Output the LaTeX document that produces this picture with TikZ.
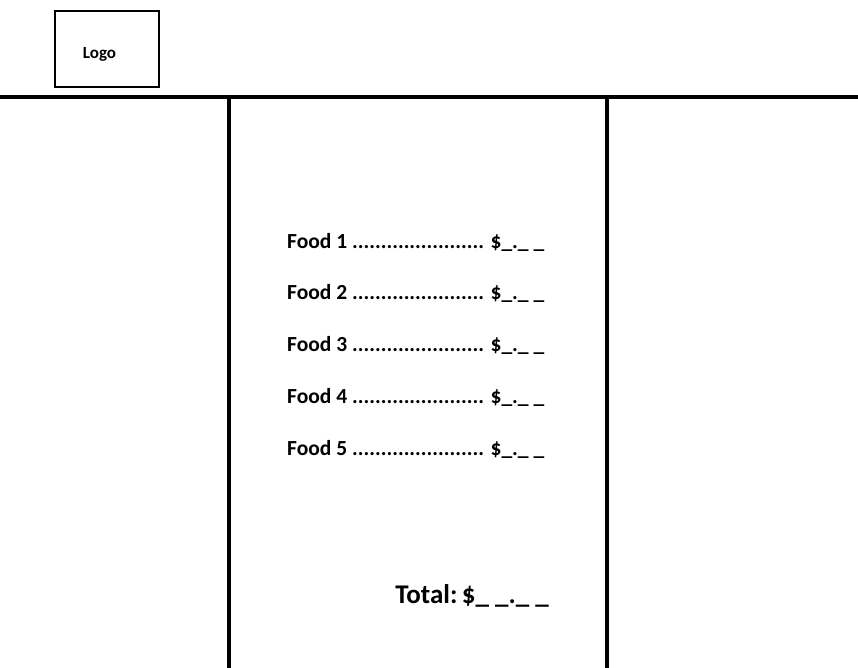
\documentclass[tikz,border=0pt]{standalone}
\usepackage{fontspec}
\setmainfont{Carlito}
\usetikzlibrary{positioning}

\tikzset{
  rule/.style={line width=4pt},
  logobox/.style={draw, line width=2pt, minimum width=104pt, minimum height=76pt},
  logotext/.style={inner sep=0pt, font=\bfseries\fontsize{17}{20}\selectfont},
  fooditem/.style={anchor=west, inner sep=0pt, font=\bfseries\fontsize{21.5}{25}\selectfont},
  totalline/.style={anchor=east, inner sep=0pt, font=\bfseries\fontsize{27}{31}\selectfont}
}
\newcommand{\dotrow}{.......................}

\begin{document}
\begin{tikzpicture}[x=1pt, y=-1pt]
    \useasboundingbox (0,0) rectangle (858,668);

    % header logo
    \node[logobox] (logo) at (106.5,49) {};
    \node[logotext] (logolabel) at (99.5,54) {Logo};

    % page frame
    \draw[rule] (0,97) -- (858,97);
    \draw[rule] (229,97) -- (229,668);
    \draw[rule] (607,97) -- (607,668);

    % menu items
    \node[fooditem] (food1) at (287,242) {Food 1 \dotrow{} \$\_.\_ \_};
    \node[fooditem] (food2) at (287,293.5) {Food 2 \dotrow{} \$\_.\_ \_};
    \node[fooditem] (food3) at (287,345) {Food 3 \dotrow{} \$\_.\_ \_};
    \node[fooditem] (food4) at (287,397) {Food 4 \dotrow{} \$\_.\_ \_};
    \node[fooditem] (food5) at (287,449) {Food 5 \dotrow{} \$\_.\_ \_};

    % total
    \node[totalline] (total) at (549,596) {Total:\,\$\_ \_.\_ \_};
\end{tikzpicture}
\end{document}
